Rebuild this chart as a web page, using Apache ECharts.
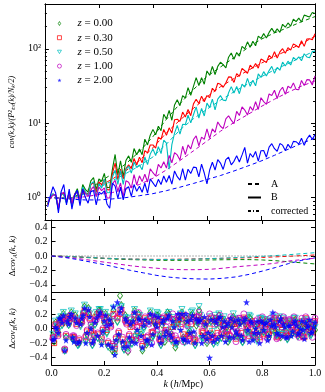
<!DOCTYPE html>
<html><head><meta charset="utf-8">
<script src="https://cdn.jsdelivr.net/npm/echarts@6/dist/echarts.min.js"></script>
<style>html,body{margin:0;padding:0;background:#fff}#c{width:325px;height:392px}</style>
</head><body><div id="c"></div>
<script>
// ---------- data ----------
const kFine = [0.01,0.02,0.03,0.04,0.05,0.06,0.07,0.08,0.09,0.10,
0.11,0.12,0.13,0.14,0.15,0.16,0.17,0.18,0.19,0.20,
0.21,0.22,0.23,0.24,0.25,0.26,0.27,0.28,0.29,0.30,
0.31,0.32,0.33,0.34,0.35,0.36,0.37,0.38,0.39,0.40,
0.41,0.42,0.43,0.44,0.45,0.46,0.47,0.48,0.49,0.50,
0.51,0.52,0.53,0.54,0.55,0.56,0.57,0.58,0.59,0.60,
0.61,0.62,0.63,0.64,0.65,0.66,0.67,0.68,0.69,0.70,
0.71,0.72,0.73,0.74,0.75,0.76,0.77,0.78,0.79,0.80,
0.81,0.82,0.83,0.84,0.85,0.86,0.87,0.88,0.89,0.90,
0.91,0.92,0.93,0.94,0.95,0.96,0.97,0.98,0.99,1.00];
const kHalf = [0.005,0.015,0.025,0.035,0.045,0.055,0.065,0.075,0.085,0.095,
0.105,0.115,0.125,0.135,0.145,0.155,0.165,0.175,0.185,0.195,
0.205,0.215,0.225,0.235,0.245,0.255,0.265,0.275,0.285,0.295,
0.305,0.315,0.325,0.335,0.345,0.355,0.365,0.375,0.385,0.395,
0.405,0.415,0.425,0.435,0.445,0.455,0.465,0.475,0.485,0.495,
0.505,0.515,0.525,0.535,0.545,0.555,0.565,0.575,0.585,0.595,
0.605,0.615,0.625,0.635,0.645,0.655,0.665,0.675,0.685,0.695,
0.705,0.715,0.725,0.735,0.745,0.755,0.765,0.775,0.785,0.795,
0.805,0.815,0.825,0.835,0.845,0.855,0.865,0.875,0.885,0.895,
0.905,0.915,0.925,0.935,0.945,0.955,0.965,0.975,0.985,0.995];
const kSmooth = [0.01,0.05,0.10,0.15,0.20,0.25,0.30,0.35,0.40,0.45,0.50,0.55,0.60,0.65,0.70,0.75,0.80,0.85,0.90,0.95,1.00];
const kDelta = [0.00,0.05,0.10,0.15,0.20,0.25,0.30,0.35,0.40,0.45,0.50,0.55,0.60,0.65,0.70,0.75,0.80,0.85,0.90,0.95,1.00];
const kZero = [0.0, 1.0];
const zeroLine = [0, 0];

const redshiftNames = ['z = 0.00','z = 0.30','z = 0.50','z = 1.00','z = 2.00'];
const styleNames = ['A','B','corrected'];

// cov B (noisy, solid)
const covB_z000 = [0.82,1.02,1.12,1.05,0.70,1.15,1.10,0.86,1.18,0.78,
1.10,1.32,0.94,1.50,1.28,1.19,1.68,1.85,1.28,1.78,
1.66,2.11,1.37,1.37,2.42,3.80,2.00,3.13,1.92,3.15,
3.64,2.98,4.56,3.77,4.49,3.78,6.10,5.10,6.90,8.26,
7.00,9.10,7.95,13.2,11.4,14.9,10.95,17.6,20.6,17.2,
23.4,21.9,30.0,23.7,31.2,41.0,32.1,41.0,33.4,50.4,
44.0,57.9,45.2,58.0,66.0,61.2,55.4,77.1,87.7,72.0,
89.3,79.6,107.5,100.0,124.0,105.0,126.0,109.7,148.0,137.7,
160.0,139.5,166.0,188.0,164.5,185.6,166.3,213.6,194.9,222.6,
201.5,250.8,232.3,258.3,229.5,283.6,275.0,268.0,306.8,299.0];
const covB_z030 = [0.80,1.00,1.10,1.07,0.71,1.12,1.14,0.88,1.15,0.80,
1.10,1.23,0.94,1.37,1.14,1.13,1.48,1.61,1.18,1.62,
1.49,1.76,1.28,1.27,2.11,2.90,1.74,2.42,1.78,2.45,
2.75,2.45,3.36,2.73,3.50,2.95,4.29,3.99,5.10,5.10,
4.64,6.49,6.06,8.24,6.86,8.67,7.36,11.1,11.3,10.6,
14.1,12.1,15.3,12.6,18.2,21.0,18.4,23.1,19.4,23.5,
22.1,29.5,26.8,34.4,33.3,30.4,34.9,41.9,41.6,35.3,
46.5,42.5,54.6,50.7,46.8,60.1,54.9,63.4,54.9,72.8,
69.4,65.3,81.4,74.7,91.2,74.9,90.7,100.4,87.2,103.7,
96.0,116.5,110.7,104.0,128.7,107.8,135.7,136.2,132.0,159.5];
const covB_z050 = [0.85,1.03,1.12,1.04,0.69,1.16,1.08,0.84,1.20,0.76,
1.04,1.25,0.88,1.39,1.20,1.06,1.53,1.64,1.04,1.54,
1.34,1.77,1.17,1.16,1.89,2.34,1.50,2.31,1.51,2.38,
2.65,2.13,3.00,2.54,2.74,2.37,3.51,2.78,3.85,4.51,
3.68,4.82,3.91,5.90,5.39,2.40,5.15,7.34,9.36,7.14,
9.65,9.60,12.8,10.1,13.0,16.6,11.7,15.8,12.5,18.6,
16.2,21.1,15.1,21.1,23.5,20.4,20.1,25.6,31.0,25.4,
31.1,24.9,33.6,30.6,40.1,31.3,37.9,31.8,46.1,41.2,
49.3,43.2,50.9,58.0,46.8,56.2,51.5,66.1,58.8,68.2,
60.6,76.4,70.9,77.8,69.0,85.8,77.8,75.6,92.2,91.8];
const covB_z100 = [0.88,0.98,1.08,1.10,0.72,1.13,1.18,0.90,1.12,0.82,
1.11,1.18,0.94,1.27,1.13,1.03,1.27,1.40,1.03,1.38,
1.24,1.35,0.99,0.99,1.53,1.71,1.22,1.57,1.02,1.68,
1.61,1.34,2.03,1.48,1.96,1.64,2.06,1.62,2.44,2.16,
1.95,2.79,2.50,3.03,2.49,3.70,2.94,4.03,3.75,3.20,
4.90,3.78,5.12,4.51,6.03,6.77,4.96,6.50,6.07,8.40,
6.26,8.37,7.52,10.4,9.11,8.47,11.4,12.6,11.0,9.84,
14.4,12.7,16.6,15.0,12.9,16.7,14.9,19.5,15.3,22.0,
19.5,17.9,24.7,23.5,27.7,21.5,27.3,30.4,24.4,31.4,
29.6,34.8,28.5,28.2,37.6,32.0,38.5,38.2,32.6,43.3];
const covB_z200 = [0.75,1.05,1.40,1.15,0.62,1.20,1.50,0.80,1.30,0.70,
1.08,1.25,0.78,1.30,1.00,0.84,1.20,1.25,0.80,1.18,
1.12,1.23,0.82,0.72,1.56,1.43,0.98,1.38,0.93,1.33,
1.40,1.04,1.50,1.22,1.42,1.18,1.56,1.15,1.78,1.58,
1.40,1.76,1.50,1.95,1.61,1.98,1.52,2.28,1.91,1.72,
2.46,1.72,2.41,2.11,2.57,2.54,1.90,2.82,2.14,1.53,
2.35,2.99,2.35,3.24,2.91,2.39,3.23,3.49,2.75,3.07,
3.66,3.01,3.75,4.73,2.91,3.92,3.49,4.17,3.10,4.27,
4.29,3.49,4.76,5.31,4.54,4.20,5.32,5.07,4.30,5.20,
4.63,5.70,5.64,5.23,6.27,5.04,6.14,6.92,6.09,7.02];

// cov A (dashed)
const covA_z000 = [1.0,0.995,1.0,1.22,1.59,2.1,2.85,4.16,6.6,11.3,18.3,28.3,42.5,56.9,76,102.6,134,163.5,193,231,271];
const covA_z030 = [1.0,0.995,0.99,1.16,1.41,1.78,2.3,3.15,4.67,7.44,11.0,15.8,22.6,30.9,39.8,50.7,63.7,79,95.6,117.6,147];
const covA_z050 = [1.0,0.995,0.99,1.13,1.36,1.69,2.11,2.67,3.52,5.24,8.11,11.5,15.4,20.4,26.4,33.5,41.8,52.3,63.1,77.4,94];
const covA_z100 = [1.0,0.99,0.97,1.03,1.1,1.17,1.3,1.5,1.82,2.36,3.15,4.25,5.75,7.8,10.2,13,16.7,21,26,31.5,37];
const covA_z200 = [1.0,0.98,0.95,0.93,0.93,0.96,1.0,1.06,1.13,1.24,1.38,1.55,1.75,1.98,2.28,2.65,3.1,3.7,4.45,5.35,6.3];

// Delta cov A (middle panel)
const dA_z000 = [0,-0.005,-0.015,-0.025,-0.035,-0.045,-0.05,-0.055,-0.06,-0.06,-0.06,-0.058,-0.055,-0.052,-0.05,-0.05,-0.055,-0.065,-0.08,-0.095,-0.11];
const dA_z030 = [0,-0.005,-0.012,-0.02,-0.03,-0.037,-0.042,-0.045,-0.047,-0.046,-0.044,-0.04,-0.036,-0.032,-0.028,-0.024,-0.02,-0.012,-0.004,0.005,0.014];
const dA_z050 = [0,-0.005,-0.012,-0.02,-0.03,-0.037,-0.042,-0.046,-0.048,-0.048,-0.046,-0.042,-0.036,-0.03,-0.022,-0.014,-0.005,0.006,0.018,0.032,0.046];
const dA_z100 = [0,-0.015,-0.035,-0.06,-0.085,-0.11,-0.135,-0.155,-0.17,-0.185,-0.19,-0.19,-0.185,-0.17,-0.15,-0.135,-0.12,-0.1,-0.07,-0.05,-0.03];
const dA_z200 = [0,-0.02,-0.05,-0.085,-0.12,-0.16,-0.2,-0.235,-0.27,-0.295,-0.31,-0.318,-0.32,-0.31,-0.29,-0.255,-0.21,-0.16,-0.105,-0.06,-0.025];

// Delta cov B (bottom panel scatter) at kFine
const dB_z000 = [-0.18,0.02,0.12,0.05,-0.30,0.15,0.10,-0.14,0.18,-0.22,
0.05,0.22,-0.16,0.28,0.02,-0.10,0.20,0.25,-0.18,0.08,
-0.05,0.14,-0.30,-0.34,0.10,0.45,-0.20,0.18,-0.32,0.05,
0.12,-0.15,0.20,-0.08,0.02,-0.22,0.15,-0.12,0.08,0.18,
-0.10,0.05,-0.18,0.22,-0.05,0.12,-0.26,0.08,0.15,-0.12,
0.10,-0.06,0.18,-0.14,0.04,0.25,-0.10,0.06,-0.20,0.12,
-0.08,0.14,-0.16,0.02,0.10,-0.04,-0.18,0.08,0.16,-0.10,
0.05,-0.12,0.12,-0.02,0.15,-0.08,0.04,-0.14,0.10,-0.03,
0.08,-0.10,0.03,0.12,-0.06,0.02,-0.12,0.09,-0.04,0.06,
-0.08,0.10,-0.02,0.05,-0.10,0.07,0.00,-0.06,0.04,-0.02];
const dB_z030 = [-0.20,0.00,0.10,0.07,-0.29,0.12,0.14,-0.12,0.15,-0.20,
0.08,0.18,-0.12,0.22,-0.03,-0.08,0.16,0.20,-0.15,0.12,
-0.02,0.10,-0.24,-0.28,0.14,0.20,-0.15,0.12,-0.22,0.02,
0.08,-0.10,0.16,-0.12,0.06,-0.18,0.10,-0.05,0.12,0.04,
-0.14,0.10,-0.06,0.16,-0.12,0.02,-0.20,0.12,0.06,-0.08,
0.14,-0.10,0.06,-0.18,0.10,0.18,-0.04,0.12,-0.12,0.00,
-0.12,0.10,-0.06,0.14,0.04,-0.10,-0.02,0.12,0.06,-0.14,
0.08,-0.06,0.15,0.02,-0.10,0.10,-0.04,0.06,-0.12,0.12,
0.02,-0.08,0.10,-0.03,0.14,-0.10,0.05,0.12,-0.06,0.08,
-0.04,0.12,0.02,-0.08,0.10,-0.12,0.06,0.02,-0.05,0.10];
const dB_z050 = [-0.15,0.03,0.12,0.04,-0.31,0.16,0.08,-0.16,0.20,-0.24,
0.02,0.20,-0.18,0.25,0.04,-0.12,0.22,0.26,-0.20,0.10,
-0.08,0.16,-0.27,-0.31,0.08,0.28,-0.22,0.15,-0.28,0.08,
0.15,-0.12,0.18,-0.05,-0.02,-0.20,0.12,-0.16,0.10,0.22,
-0.08,0.12,-0.15,0.18,-0.02,0.15,-0.22,0.02,0.20,-0.16,
0.06,-0.02,0.22,-0.10,0.08,0.30,-0.14,0.10,-0.18,0.16,
-0.04,0.18,-0.20,0.06,0.12,-0.08,-0.14,0.04,0.20,-0.06,
0.10,-0.16,0.08,-0.06,0.18,-0.12,0.02,-0.18,0.14,-0.02,
0.12,-0.06,0.06,0.16,-0.10,0.04,-0.08,0.14,-0.02,0.10,
-0.06,0.14,0.02,0.08,-0.08,0.10,-0.04,-0.10,0.06,0.02];
const dB_z100 = [-0.12,-0.02,0.08,0.10,-0.28,0.13,0.18,-0.10,0.12,-0.18,
0.10,0.16,-0.10,0.20,0.06,-0.06,0.12,0.22,-0.12,0.15,
0.02,0.08,-0.22,-0.24,0.16,0.26,-0.12,0.10,-0.30,0.12,
0.04,-0.16,0.22,-0.14,0.10,-0.12,0.06,-0.20,0.16,-0.02,
-0.16,0.14,-0.04,0.10,-0.14,0.20,-0.10,0.16,0.02,-0.18,
0.18,-0.14,0.10,-0.08,0.16,0.22,-0.16,0.04,-0.08,0.20,
-0.16,0.06,-0.10,0.18,-0.02,-0.14,0.10,0.16,-0.04,-0.18,
0.14,-0.04,0.20,0.04,-0.14,0.06,-0.10,0.12,-0.16,0.16,
-0.02,-0.14,0.14,0.04,0.18,-0.12,0.08,0.16,-0.10,0.12,
0.02,0.16,-0.08,-0.12,0.14,-0.06,0.10,0.06,-0.12,0.14];
const dB_z200 = [-0.14,0.00,0.14,0.08,-0.30,0.10,0.16,-0.12,0.14,-0.20,
0.06,0.18,-0.20,0.26,0.00,-0.16,0.14,0.18,-0.22,0.10,
0.04,0.12,-0.26,-0.36,0.36,0.22,-0.18,0.14,-0.24,0.06,
0.10,-0.20,0.14,-0.10,0.04,-0.16,0.08,-0.22,0.18,0.02,
-0.12,0.08,-0.10,0.14,-0.08,0.10,-0.18,0.20,-0.02,-0.14,
0.20,-0.18,0.12,-0.04,0.14,0.10,-0.20,0.16,-0.14,-0.40,
-0.10,0.12,-0.14,0.16,0.02,-0.18,0.08,0.14,-0.12,-0.04,
0.12,-0.10,0.10,0.36,-0.18,0.08,-0.06,0.10,-0.20,0.08,
0.06,-0.16,0.12,0.22,0.02,-0.08,0.14,0.06,-0.12,0.04,
-0.10,0.08,0.04,-0.06,0.10,-0.14,0.02,0.12,-0.04,0.08];

// Delta cov B at kHalf
const dBh_z000 = [-0.10,0.08,-0.05,0.15,0.20,-0.12,0.05,0.22,-0.15,0.10,
-0.20,0.12,0.30,-0.08,0.18,-0.22,0.06,-0.12,0.24,-0.05,
0.20,-0.24,0.08,0.25,-0.18,-0.10,0.32,-0.28,0.12,-0.15,
-0.20,0.24,-0.05,0.15,-0.30,0.10,-0.18,0.22,-0.10,0.05,
0.18,-0.22,0.10,-0.06,0.20,-0.15,0.04,-0.20,0.12,0.22,
-0.18,0.12,-0.04,0.20,-0.22,0.08,0.14,-0.12,0.05,-0.08,
0.10,-0.20,0.06,0.18,-0.12,0.12,0.02,-0.14,0.04,0.12,
-0.10,0.08,-0.18,0.06,-0.04,0.14,-0.12,0.02,-0.08,0.12,
-0.04,0.10,-0.12,-0.02,0.08,-0.08,0.14,-0.06,0.04,-0.14,
0.06,-0.06,0.12,-0.10,0.02,-0.04,0.10,0.06,-0.08,0.04];
const dBh_z030 = [-0.12,0.06,-0.08,0.12,0.16,-0.10,0.08,0.18,-0.12,0.06,
-0.16,0.10,0.24,-0.04,0.14,-0.18,0.10,-0.08,0.20,-0.02,
0.16,-0.20,0.04,0.20,-0.14,-0.06,0.26,-0.22,0.08,-0.10,
-0.16,0.18,0.02,0.10,-0.24,0.14,-0.12,0.16,-0.06,0.10,
0.12,-0.18,0.14,-0.02,0.16,-0.10,0.08,-0.16,0.16,0.18,
-0.14,0.08,-0.08,0.16,-0.16,0.12,0.10,-0.06,0.08,-0.12,
0.14,-0.14,0.10,0.12,-0.08,0.06,-0.04,-0.10,0.08,0.06,
-0.06,0.12,-0.14,0.10,0.00,0.08,-0.10,0.06,-0.04,0.08,
-0.08,0.06,-0.08,0.02,0.12,-0.12,0.08,-0.02,0.10,-0.10,
0.10,-0.02,0.08,-0.06,0.06,-0.10,0.14,0.02,-0.04,0.08];
const dBh_z050 = [-0.08,0.10,-0.04,0.16,0.22,-0.14,0.04,0.24,-0.16,0.12,
-0.22,0.14,0.32,-0.10,0.20,-0.24,0.04,-0.14,0.26,-0.06,
0.22,-0.26,0.10,0.28,-0.20,-0.12,0.30,-0.30,0.14,-0.18,
-0.22,0.26,-0.08,0.18,-0.28,0.08,-0.20,0.24,-0.12,0.08,
0.20,-0.24,0.06,-0.10,0.22,-0.18,0.06,-0.22,0.08,0.26,
-0.20,0.14,-0.02,0.24,-0.24,0.06,0.18,-0.14,0.02,-0.10,
0.08,-0.22,0.04,0.20,-0.14,0.16,0.00,-0.16,0.06,0.14,
-0.12,0.10,-0.20,0.08,-0.06,0.16,-0.14,0.04,-0.10,0.14,
-0.06,0.12,-0.14,0.00,0.10,-0.10,0.16,-0.08,0.06,-0.16,
0.08,-0.08,0.14,-0.12,0.04,-0.06,0.12,0.08,-0.10,0.06];
const dBh_z100 = [-0.14,0.04,-0.10,0.10,0.14,-0.08,0.10,0.16,-0.10,0.04,
-0.14,0.08,0.22,-0.02,0.12,-0.16,0.12,-0.06,0.18,0.00,
0.14,-0.18,0.02,0.18,-0.12,-0.04,0.22,-0.20,0.06,-0.08,
-0.14,0.20,0.04,0.08,-0.22,0.16,-0.10,0.18,-0.04,0.12,
0.10,-0.16,0.16,0.02,0.14,-0.08,0.12,-0.14,0.18,0.14,
-0.12,0.04,-0.12,0.14,-0.14,0.16,0.06,-0.04,0.10,-0.16,
0.16,-0.12,0.14,0.08,-0.06,0.04,-0.08,-0.08,0.12,0.02,
-0.04,0.14,-0.12,0.12,0.04,0.06,-0.08,0.10,-0.02,0.06,
-0.10,0.04,-0.06,0.06,0.14,-0.14,0.06,0.02,0.12,-0.08,
0.12,0.02,0.06,-0.04,0.08,-0.12,0.16,-0.02,-0.02,0.10];
const dBh_z200 = [-0.16,0.02,-0.06,0.14,0.18,-0.16,0.06,0.20,-0.18,0.08,
-0.18,0.14,0.28,-0.06,0.16,-0.20,0.08,-0.10,0.22,-0.04,
0.18,-0.22,0.06,0.30,-0.16,-0.08,0.28,-0.26,0.10,-0.12,
-0.18,0.22,-0.02,0.12,-0.26,0.12,-0.16,0.20,-0.08,0.06,
0.16,-0.20,0.12,-0.04,0.18,-0.12,0.02,-0.18,0.14,0.20,
-0.16,0.10,-0.06,0.18,-0.20,0.10,0.12,-0.10,0.06,-0.06,
0.12,-0.18,0.08,0.14,-0.10,0.10,0.04,-0.12,0.02,0.10,
-0.08,0.06,-0.16,0.14,-0.02,0.10,-0.16,0.00,-0.06,0.10,
-0.02,0.08,-0.10,0.04,0.06,-0.06,0.10,-0.10,0.02,-0.12,
0.04,-0.04,0.10,-0.08,0.00,-0.02,0.08,0.04,-0.06,0.02];

const logMajorTicks = [1, 10, 100];
const logMinorTicks = [0.6,0.7,0.8,0.9,2,3,4,5,6,7,8,9,20,30,40,50,60,70,80,90,200,300];
const linTicks = [-0.4,-0.2,0.0,0.2,0.4];

// ---------- style ----------
const colors = ['#008000','#ff0000','#00bfbf','#bf00bf','#0000ff'];
const FONT = 'Liberation Serif';
const STAR = 'path://M0,-10L2.35,-3.24L9.51,-3.09L3.8,1.24L5.88,8.09L0,4L-5.88,8.09L-3.8,1.24L-9.51,-3.09L-2.35,-3.24Z';
const THIN_DIAMOND = 'path://M0,-10L6,0L0,10L-6,0Z';
const TRI_DOWN = 'path://M-10,-8L10,-8L0,9Z';
const symbols = [THIN_DIAMOND,'rect',TRI_DOWN,'circle',STAR];
const symbolSizes = [[5,7],5,6,6,7];

const covB = [covB_z000,covB_z030,covB_z050,covB_z100,covB_z200];
const covA = [covA_z000,covA_z030,covA_z050,covA_z100,covA_z200];
const dA = [dA_z000,dA_z030,dA_z050,dA_z100,dA_z200];
const dB = [dB_z000,dB_z030,dB_z050,dB_z100,dB_z200];
const dBh = [dBh_z000,dBh_z030,dBh_z050,dBh_z100,dBh_z200];

const pairs = (xs, ys) => xs.map((x, i) => [x, ys[i]]);
const DASH = [4, 3];
const DASHDOT = [3, 2, 1, 2];

function markerStyle(i) {
  const c = colors[i];
  return i === 4 ? {color:c, borderColor:c, borderWidth:0}
                 : {color:'rgba(255,255,255,0)', borderColor:c, borderWidth:0.9};
}

const series = [];
for (let i = 0; i < 5; i++) {
  const c = colors[i];
  series.push({type:'line', name:'A '+i, xAxisIndex:0, yAxisIndex:0, data:pairs(kSmooth, covA[i]), symbol:'none', silent:true, lineStyle:{color:c, width:1, type:DASH}, z:2});
  series.push({type:'line', name:'B '+i, xAxisIndex:0, yAxisIndex:0, data:pairs(kFine, covB[i]), symbol:'none', silent:true, lineStyle:{color:c, width:1.1}, z:3});
  series.push({type:'line', name:'dA '+i, xAxisIndex:2, yAxisIndex:4, data:pairs(kDelta, dA[i]), symbol:'none', silent:true, lineStyle:{color:c, width:1, type:DASH}});
}
series.push({type:'line', name:'dC', xAxisIndex:2, yAxisIndex:4, data:pairs(kZero, zeroLine), symbol:'none', silent:true, lineStyle:{color:'#666', width:1, type:[1,2]}});
for (let i = 0; i < 5; i++) {
  series.push({type:'scatter', name:redshiftNames[i], xAxisIndex:4, yAxisIndex:6,
    data:pairs(kFine, dB[i]).concat(pairs(kHalf, dBh[i])),
    symbol:symbols[i], symbolSize:symbolSizes[i], silent:true, itemStyle:markerStyle(i)});
}
// legend-only entries for line styles
series.push({type:'line', name:'A', xAxisIndex:0, yAxisIndex:0, data:[], symbol:'none', itemStyle:{color:'#000'}, lineStyle:{color:'#000', width:1, type:DASH}});
series.push({type:'line', name:'B', xAxisIndex:0, yAxisIndex:0, data:[], symbol:'none', itemStyle:{color:'#000'}, lineStyle:{color:'#000', width:1.2}});
series.push({type:'line', name:'corrected', xAxisIndex:0, yAxisIndex:0, data:[], symbol:'none', itemStyle:{color:'#000'}, lineStyle:{color:'#000', width:1, type:DASHDOT}});

const axisLine = {show:true, onZero:false, lineStyle:{color:'#000', width:1}};
const labelStyle = {fontFamily:FONT, fontSize:10, color:'#000'};
const fmtLin = v => (v < 0 ? '\u2212' : '') + Math.abs(v).toFixed(1);
const sup = {1:'10\u2070', 10:'10\u00b9', 100:'10\u00b2'};

function xAx(grid, pos, showLabel, extra) {
  return Object.assign({type:'value', gridIndex:grid, position:pos, min:0, max:1, interval:0.2,
    axisLine, splitLine:{show:false},
    axisTick:{show:true, inside:true, length:4, lineStyle:{color:'#000'}},
    axisLabel:Object.assign({show:showLabel, margin:3, formatter:v => v.toFixed(1)}, labelStyle)}, extra || {});
}
function yLog(pos, ticks, len, showLabel, extra) {
  return Object.assign({type:'log', gridIndex:0, position:pos, min:0.5, max:400, logBase:10,
    axisLine, splitLine:{show:false}, minorTick:{show:false},
    axisTick:{show:true, inside:true, length:len, customValues:ticks, lineStyle:{color:'#000'}},
    axisLabel:Object.assign({show:showLabel, margin:4, customValues:logMajorTicks, formatter:v => sup[Math.round(v)] || ''}, labelStyle)}, extra || {});
}
function yLin(grid, pos, showLabel, extra) {
  return Object.assign({type:'value', gridIndex:grid, position:pos, min:-0.5, max:0.5,
    axisLine, splitLine:{show:false},
    axisTick:{show:true, inside:true, length:4, customValues:linTicks, lineStyle:{color:'#000'}},
    axisLabel:Object.assign({show:showLabel, margin:4, customValues:linTicks, formatter:fmtLin}, labelStyle)}, extra || {});
}
const subRich = {d:{fontFamily:FONT,fontSize:9}, i:{fontFamily:FONT,fontSize:9,fontStyle:'italic'}, s:{fontFamily:FONT,fontSize:6,fontStyle:'italic',verticalAlign:'bottom',lineHeight:12}};

const option = {
  animation:false,
  backgroundColor:'#fff',
  grid:[
    {left:36, right:10, top:4, height:216},
    {left:36, right:10, top:220, height:72},
    {left:36, right:10, top:292, height:73}
  ],
  xAxis:[
    xAx(0,'bottom',false), xAx(0,'top',false),
    xAx(1,'bottom',false), xAx(1,'top',false),
    xAx(2,'bottom',true,{name:'{i|k} ({i|h}/Mpc)', nameLocation:'middle', nameGap:13,
      nameTextStyle:{fontFamily:FONT, fontSize:10, color:'#000', rich:{i:{fontFamily:FONT, fontSize:10, fontStyle:'italic'}}}}),
    xAx(2,'top',false)
  ],
  yAxis:[
    yLog('left', logMajorTicks, 4, true, {name:'cov(k,k)/(P\u00b2\u209c\u2092\u209c(k)/N\u2096/2)', nameLocation:'middle', nameGap:16,
      nameTextStyle:{fontFamily:FONT, fontSize:8, fontStyle:'italic', color:'#000'}}),
    yLog('left', logMinorTicks, 2, false),
    yLog('right', logMajorTicks, 4, false),
    yLog('right', logMinorTicks, 2, false),
    yLin(1,'left',true,{name:'{d|\u0394}{i|cov}{s|A}{i|(k, k)}', nameLocation:'middle', nameGap:17,
      nameTextStyle:{fontFamily:FONT, fontSize:9, color:'#000', rich:subRich}}),
    yLin(1,'right',false),
    yLin(2,'left',true,{name:'{d|\u0394}{i|cov}{s|B}{i|(k, k)}', nameLocation:'middle', nameGap:17,
      nameTextStyle:{fontFamily:FONT, fontSize:9, color:'#000', rich:subRich}}),
    yLin(2,'right',false)
  ],
  legend:[
    {data:redshiftNames.map((n, i) => ({name:n, itemStyle:markerStyle(i)})),
      orient:'vertical', left:52, top:13, itemWidth:4, itemHeight:4, itemGap:3.2, selectedMode:false,
      formatter:n => n.replace('z', '{i|z}'),
      textStyle:{fontFamily:FONT, fontSize:11, color:'#000', padding:[0,0,0,11], rich:{i:{fontFamily:FONT, fontSize:11, fontStyle:'italic'}}}},
    {data:styleNames, orient:'vertical', left:242, top:174, itemWidth:13, itemHeight:8, itemGap:3.5, selectedMode:false,
      itemStyle:{opacity:0},
      textStyle:{fontFamily:FONT, fontSize:10, color:'#000', padding:[0,0,0,5]}}
  ],
  series
};
const chart = echarts.init(document.getElementById('c'), null, {renderer:'canvas'});
chart.setOption(option);
</script>
</body></html>
